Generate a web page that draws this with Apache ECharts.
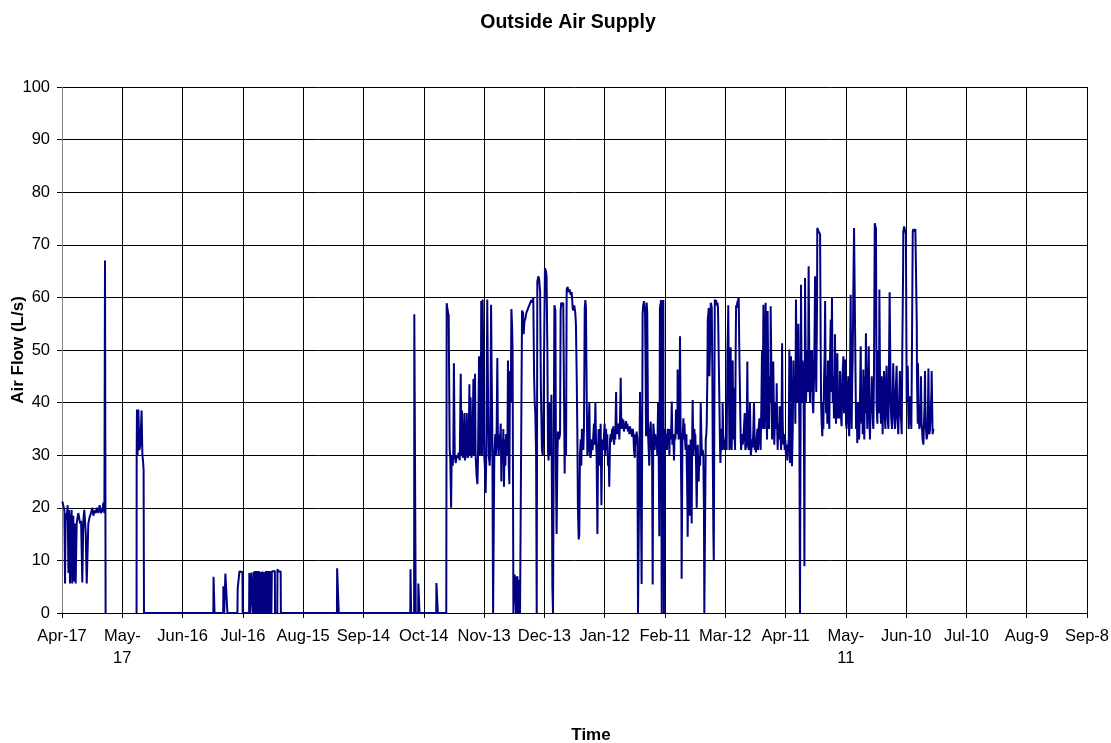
<!DOCTYPE html>
<html>
<head>
<meta charset="utf-8">
<script src="https://cdn.jsdelivr.net/npm/echarts@6/dist/echarts.min.js"></script>
<style>
html,body{margin:0;padding:0;background:#fff;}
#chart{width:1111px;height:743px;}
</style>
</head>
<body>
<div id="chart"></div>
<script>
// X values are days since the first tick (Apr-17); ticks every 30 days
const tickLabels = ['Apr-17','May-17','Jun-16','Jul-16','Aug-15','Sep-14','Oct-14','Nov-13','Dec-13','Jan-12','Feb-11','Mar-12','Apr-11','May-11','Jun-10','Jul-10','Aug-9','Sep-8'];
const tickStepDays = 30;

// [day, air flow L/s]
const earlyFlow = [[0.2,21.2],[0.6,20.5],[1.2,19.5],[1.5,5.6],[1.8,19],[2.3,17.7],[2.8,20.5],[3.2,7.6],[3.5,19.6],[4.0,5.6],[4.5,18.3],[4.8,19.6],[5.1,5.6],[5.6,18.5],[6.1,6],[6.5,17],[6.8,5.6],[7.3,17],[7.8,18.3],[8.1,19],[8.6,18],[9.0,17],[9.5,17.5],[10.1,5.8],[10.6,17.5],[11.1,19.6],[11.8,15.2],[12.3,5.6],[12.8,5.8],[13.1,17],[13.6,18],[14.4,19],[15.1,20],[15.6,18.5],[16.1,19.5],[16.8,19],[17.4,20],[18.1,19],[18.7,20.5],[19.4,19],[20.1,19.5],[20.6,21],[21.1,19],[21.4,67],[21.7,0]];

const mayFlow = [[37.1,0],[37.15,30],[37.3,38.7],[37.6,30],[38.0,38.7],[38.5,31],[39.0,32],[39.6,38.5],[40.0,30],[40.3,29],[40.6,27.2],[40.8,0]];

const idleFlow = [[41,0],[75.3,0],[75.4,6.9],[75.8,6.9],[75.9,0],[80.2,0],[80.3,5.1],[80.6,5.1],[80.7,0],[81.2,0],[81.3,7.5],[82.2,7.5],[82.3,0],[87.3,0],[87.4,4.6],[88.2,4.6],[88.3,7.9],[89.8,7.8],[89.9,0],
[93.1,0],[93.2,7.6],[93.6,7.5],[93.7,0],[94.2,0],[94.3,7.7],[94.9,7.6],[95.0,0],[95.5,7.9],[95.9,7.9],[96.0,0],[96.2,8.0],[96.8,8.0],[96.9,0],[97.1,8.0],[97.6,8.0],[97.7,0],[97.9,8.0],[98.5,7.9],[98.6,0],[98.8,7.8],[99.4,7.8],[99.5,0],[99.7,7.9],[100.3,7.9],[100.4,0],[100.6,7.8],[101.2,8.0],[101.3,0],[101.5,8.0],[102.2,8.0],[102.3,0],[102.5,8.0],[103.1,8.0],[103.2,0],[103.4,8.0],[104.1,8.0],[104.2,0],[104.4,7.9],[105.9,8.0],[106.0,0],[107.1,0],[107.2,8.3],[107.7,8.3],[107.8,7.9],[108.8,7.9],[108.9,0],
[136.8,0],[136.9,8.5],[137.6,8.5],[137.7,0],[173.3,0],[173.4,8.3],[173.6,8.3],[173.7,0],[175.2,0],[175.3,56.8],[175.9,56.5],[176.0,0],[177.2,0],[177.3,5.6],[177.8,5.6],[177.9,0],[186.2,0],[186.3,5.7],[186.9,5.7],[187.0,0],[191.2,0]];

const fallFlow = [[191.4,58.9],[191.9,57.5],[192.4,56.5],[192.9,31],[193.2,29.5],[193.6,20],[193.9,30],[194.4,28],[194.7,30.5],[195.0,47.5],[195.4,30],[195.9,28.5],[196.4,30],[196.9,29.5],[197.4,30.5],[197.9,29],[198.4,45.5],[198.7,30],[199.0,38.5],[199.4,29.5],[199.9,30.5],[200.2,38],[200.5,29],[201.0,31],[201.4,38],[201.8,29.5],[202.3,30],[202.7,43.5],[203.0,30],[203.3,41],[203.7,29.5],[204.2,31],[204.7,44.5],[205.0,30],[205.5,45.5],[205.8,30],[206.3,26],[206.7,24.5],[207.0,30],[207.5,48.8],[207.8,30],[208.3,31],[208.6,59.3],[209.0,30],[209.3,59.6],[209.8,40],[210.1,30],[210.5,27],[210.8,22.8],[211.1,30],[211.6,59.6],[212.0,40],[212.3,30],[212.8,28],[213.1,31],[213.5,58.6],[213.8,45],[214.1,35],[214.5,0],[214.8,0],[215.1,30],[215.6,34],[216.0,30],[216.3,36],[216.6,48.5],[216.9,33],[217.3,30],[217.6,34],[217.9,32],[218.3,36],[218.6,25],[218.9,33],[219.3,29],[219.6,35],[219.9,24],[220.3,33],[220.6,28],[220.9,34],[221.3,33.5],[221.6,30],[221.9,48],[222.3,28],[222.6,24.5],[222.9,46],[223.3,40],[223.6,57.8],[223.9,55],[224.2,50],[224.6,0],[224.9,0],[225.2,7.3],[225.6,6.3],[225.9,0],[226.2,6.5],[226.6,7],[226.9,0],[227.2,6.3],[227.6,5.5],[227.9,0],[228.7,0],[228.9,57.5],[229.4,57],[229.7,53],[230.1,55.5],[230.6,56],[231.0,57],[231.5,57],[232.0,58],[232.5,58.5],[233.0,58.8],[233.5,59.5],[234.0,59],[234.5,60],[234.9,45],[235.2,40],[235.5,38],[235.9,30],[236.2,0],[236.5,63],[237.0,64],[237.4,63.5],[237.9,61],[238.3,42],[238.8,31],[239.2,30],[239.5,35],[240.0,55]];

const winterFlow = [[240.3,65.5],[240.8,65],[241.1,64],[241.5,50],[241.8,31],[242.1,29],[242.5,40],[242.8,33],[243.1,30],[243.5,41.5],[243.8,20],[244.0,5],[244.3,0],[244.6,0],[245.0,58.5],[245.5,57.5],[245.8,26],[246.1,15],[246.5,30],[246.8,34.5],[247.3,33],[247.8,34],[248.1,57.5],[248.4,59],[248.9,58.5],[249.4,59],[249.8,41],[250.1,26.5],[250.4,40],[250.8,30],[251.1,61.5],[251.6,62],[252.1,61],[252.6,61.5],[253.1,60.5],[253.6,61],[254.1,58],[254.4,57.5],[254.9,58.5],[255.4,57],[255.7,55],[256.1,45],[256.4,35],[256.7,20],[257.1,14],[257.4,15],[257.7,30],[258.1,33],[258.4,28],[258.7,35],[259.1,33],[259.4,31],[259.7,35],[260.1,58],[260.4,59.5],[260.7,58],[261.1,40],[261.4,30],[261.7,31],[262.1,36],[262.4,40],[262.7,30],[263.0,29.5],[263.4,31],[263.7,33],[264.0,31],[264.4,34],[264.7,36],[265.0,32],[265.4,40],[265.7,33],[266.0,30],[266.4,15],[266.7,30],[267.0,35],[267.4,31],[267.7,28],[268.0,36],[268.4,20.5],[268.7,30],[269.0,33],[269.4,31],[269.7,34],[270.0,36],[270.3,30],[270.7,35],[271.0,31],[271.3,34],[271.7,28],[272.0,30],[272.3,24],[272.7,33],[273.0,34],[273.3,32.5],[273.7,35],[274.0,33],[274.3,35.5],[274.7,32],[275.0,34],[275.3,33],[275.7,42],[276.0,34],[276.3,36],[276.7,34],[277.0,36],[277.3,33],[277.6,36],[278.0,44.7],[278.3,35],[278.6,37],[279.0,35],[279.3,36.8],[279.6,34.5],[280.0,36],[280.3,35],[280.6,36.5],[281.0,35],[281.3,36],[281.6,34.5],[282.0,35.5],[282.3,34],[282.6,35.5],[283.0,34],[283.3,35],[283.6,33.5],[284.0,35],[284.3,34],[284.6,31],[285.0,29.5],[285.3,34],[285.6,32],[285.9,34.5],[286.3,33],[286.6,0],[287.1,0],[287.6,42],[288.1,20],[288.4,5.5],[288.9,57],[289.2,58.5]];

const springFlow = [[289.6,59.3],[290.1,57],[290.4,45],[290.6,33.6],[290.9,59],[291.2,57],[291.6,34],[291.9,31],[292.2,28],[292.6,35],[292.9,36.4],[293.2,33],[293.6,30],[293.9,5.4],[294.2,36],[294.6,34],[294.9,31],[295.2,34],[295.6,32],[295.9,33],[296.2,30],[296.6,40],[296.9,30],[297.2,14.6],[297.5,58],[297.9,59],[298.0,59.5],[298.4,0],[298.7,0],[298.9,59],[299.2,59.5],[299.5,0],[299.7,0],[300.0,35],[300.4,32],[300.7,34],[301.0,31],[301.4,35],[301.7,33],[302.0,35],[302.2,30],[302.5,35],[302.9,33],[303.2,36],[303.4,40.2],[303.7,32],[304.0,34],[304.3,32],[304.5,29],[304.8,34],[305.2,33],[305.5,38.7],[305.8,36],[306.2,34],[306.3,46.3],[306.7,36],[306.8,33],[307.2,38],[307.5,52.6],[307.8,35],[308.2,20],[308.3,6.5],[308.7,33],[309.0,35],[309.2,37],[309.5,33],[309.7,36],[310.0,33],[310.3,31],[310.7,34],[310.8,30],[311.2,20],[311.3,14.5],[311.6,25],[311.8,32],[312.1,20],[312.5,18.5],[312.8,33],[313.1,25],[313.3,17],[313.6,35],[313.8,40.5],[314.1,30],[314.5,33],[314.6,35],[315.0,33],[315.1,34],[315.5,28],[315.8,20],[316.1,28],[316.3,32],[316.6,27],[316.8,25],[317.1,30],[317.5,28],[317.8,40],[318.1,34],[318.4,30],[318.8,31],[319.1,30],[319.4,20],[319.6,0],[319.9,0],[320.3,33],[320.6,34],[320.8,36],[321.1,45],[321.3,55.8],[321.6,57],[321.8,58],[322.1,45],[322.4,50],[322.8,59],[323.1,58.5],[323.3,58],[323.6,45],[323.8,30],[324.1,15],[324.3,10],[324.6,40],[324.8,59.6],[325.1,59],[325.4,59.5],[325.8,58.5],[326.1,59],[326.4,58],[326.6,58],[326.9,45],[327.1,40],[327.4,32],[327.6,28.5],[327.9,33],[328.2,35],[328.6,31],[328.7,40],[329.1,32],[329.4,33],[329.7,31],[329.9,31],[330.2,33],[330.4,34],[330.7,31],[331.1,50],[331.4,55],[331.5,58.5],[331.9,40],[332.1,31],[332.4,35],[332.7,50.5],[333.0,35],[333.2,31],[333.5,40],[333.7,48],[334.0,33],[334.4,42.8],[334.7,33],[334.9,31],[335.2,50],[335.4,58.5],[335.7,58],[336.0,59],[336.4,59.5],[336.7,60],[337.0,50],[337.4,40],[337.7,33],[337.9,31],[338.2,33],[338.4,34],[338.7,32],[339.0,33]];

const aprilFlow = [[339.3,33],[339.7,38],[340.0,31],[340.3,31.5],[340.7,35],[341.0,47.8],[341.3,32],[341.7,31],[342.0,34],[342.3,40],[342.7,30],[343.0,31],[343.3,33],[343.7,31.5],[344.0,35],[344.3,40],[344.7,31],[345.0,33],[345.3,30.5],[345.6,33],[346.0,35],[346.3,31],[346.6,35],[347.0,37],[347.3,33],[347.6,31],[348.0,40],[348.3,50],[348.6,35],[349.0,58.6],[349.3,45],[349.6,35],[349.9,45],[350.1,59],[350.5,40],[350.8,33],[351.1,57.4],[351.5,40],[351.8,35],[352.1,45],[352.5,40],[352.6,58.3],[353.0,45],[353.3,33],[353.6,40],[353.9,47.8],[354.3,35],[354.4,32],[354.8,38],[355.1,40],[355.4,35],[355.6,43.7],[355.9,34],[356.1,31],[356.4,36],[356.8,33],[357.1,39.3],[357.4,35],[357.8,31],[358.1,40],[358.3,51.3],[358.6,36],[358.9,32],[359.2,34],[359.6,31],[359.9,33],[360.2,30],[360.6,32],[360.9,29],[361.2,31],[361.6,33],[361.9,50.1],[362.2,28.5],[362.6,35],[362.7,48.8],[363.1,30],[363.2,27.9],[363.6,35],[363.9,48],[364.2,40],[364.6,45],[364.9,36],[365.2,59.6],[365.6,45],[365.9,40],[366.2,48],[366.4,55],[366.7,42],[366.9,35],[367.2,0],[367.4,0],[367.7,62.4],[368.0,45],[368.2,40],[368.5,48],[368.9,45],[369.2,30],[369.4,8.9],[369.7,63.7],[370.0,50],[370.2,40],[370.5,45],[370.9,50],[371.2,42],[371.5,65.9],[371.9,45],[372.2,40],[372.5,50],[372.8,42],[373.2,50],[373.5,40],[373.8,38],[374.2,45],[374.5,55],[374.7,64],[375.0,48],[375.3,42],[375.7,60],[375.8,73.2],[376.2,73],[376.5,72.5],[376.8,72.5],[377.2,72],[377.5,50],[377.7,40],[378.0,36],[378.3,33.6],[378.7,40],[378.8,35],[379.2,45],[379.5,50],[379.7,59.3],[380.0,42],[380.2,38],[380.5,45],[380.8,36],[381.1,48],[381.5,38],[381.8,35],[382.1,48],[382.5,55.8],[382.8,42],[383.1,60],[383.5,40],[383.8,45],[384.1,37],[384.5,45],[384.6,53],[385.0,40],[385.1,36],[385.5,45],[385.8,49.4],[386.1,37],[386.5,40],[386.8,37],[387.1,46],[387.5,38],[387.8,36],[387.9,35.5],[388.3,45],[388.8,48.8],[389.1,38],[389.4,45]];

const mayJuneFlow = [[389.8,48.2],[390.1,36],[390.4,35],[390.8,44],[391.1,36],[391.2,45],[391.6,34],[391.7,33.6],[392.1,45],[392.4,60.5],[392.7,40],[392.9,35],[393.2,45],[393.4,48],[393.7,60],[394.1,73.2],[394.4,73.5],[394.7,73],[395.1,35],[395.4,40],[395.7,32.3],[396.1,38],[396.2,40],[396.6,33],[396.7,34],[397.1,42],[397.4,50.7],[397.7,38],[397.9,36],[398.2,42],[398.4,34],[398.7,46.3],[399.0,36],[399.2,33],[399.5,45],[399.7,38],[400.0,53.2],[400.4,40],[400.7,35],[401.0,42],[401.4,50.7],[401.7,38],[402.0,33],[402.4,40],[402.5,38],[402.9,45],[403.2,40],[403.5,36],[403.7,35],[404.0,45],[404.4,74.1],[404.7,74],[405.0,73],[405.3,40],[405.7,36],[405.8,45],[406.2,50],[406.5,38],[406.7,61.5],[407.0,45],[407.2,40],[407.5,36],[407.8,45],[408.2,37],[408.3,34],[408.7,42],[409.0,46],[409.3,38],[409.7,35],[410.0,44],[410.3,47],[410.7,38],[411.0,36],[411.2,35],[411.5,48],[411.8,61],[412.2,45],[412.3,40],[412.6,37],[413.0,35],[413.3,42],[413.6,47.5],[414.0,38],[414.3,36],[414.5,35],[414.8,42],[415.3,47],[415.6,37],[416.0,35],[416.1,34],[416.5,40],[416.9,46],[417.3,38],[417.6,36],[417.8,34],[418.1,50],[418.5,65],[418.6,72.5],[419.0,73.5],[419.3,73.5],[419.6,72.5],[419.9,72],[420.1,55],[420.3,40],[420.6,44.4],[420.8,47],[421.1,38],[421.3,35],[421.6,40],[421.9,41.2],[422.3,37],[422.6,35],[422.9,50],[423.3,72.5],[423.6,73],[424.1,72.5],[424.6,73],[424.9,73.3],[425.3,55],[425.4,45],[425.8,36],[425.9,47.5],[426.3,38],[426.6,35],[426.9,36],[427.3,40],[427.4,45],[427.7,36],[427.9,35],[428.2,33],[428.6,32],[428.9,36],[429.2,40],[429.4,46],[429.7,36],[429.9,35],[430.2,33],[430.6,34],[430.9,40],[431.1,46.5],[431.4,36],[431.6,34],[431.9,35],[432.2,38],[432.6,42],[432.7,46],[433.1,36],[433.2,34],[433.6,35]];

const gapMarker = [[29, null]];

const flowData = [].concat(earlyFlow, gapMarker, mayFlow, idleFlow, fallFlow, winterFlow, springFlow, aprilFlow, mayJuneFlow);

const FONT = '"Liberation Sans", Arial, sans-serif';
const chart = echarts.init(document.getElementById('chart'), null, {renderer: 'canvas'});
chart.setOption({
  animation: false,
  backgroundColor: '#ffffff',
  title: {
    text: 'Outside Air Supply',
    left: 563,
    top: 8,
    textAlign: 'center',
    textStyle: {fontFamily: FONT, fontWeight: 'bold', fontSize: 19.5, color: '#000'}
  },
  grid: {left: 62, right: 24, top: 87, bottom: 130, containLabel: false, outerBoundsMode: 'none'},
  xAxis: {
    type: 'value',
    min: 0,
    max: tickStepDays * (tickLabels.length - 1),
    interval: tickStepDays,
    axisLine: {show: true, onZero: false, lineStyle: {color: '#000', width: 1}},
    axisTick: {show: true, length: 5, lineStyle: {color: '#000'}},
    splitLine: {show: true, lineStyle: {color: '#000', width: 1}},
    axisLabel: {
      show: true,
      showMinLabel: true,
      showMaxLabel: true,
      margin: 12,
      fontFamily: FONT,
      fontSize: 16.5,
      lineHeight: 22,
      color: '#000',
      formatter: function (v) {
        const s = tickLabels[Math.round(v / tickStepDays)] || '';
        return s.indexOf('May-') === 0 ? s.replace('May-', 'May-\n') : s;
      }
    }
  },
  yAxis: {
    type: 'value',
    min: 0,
    max: 100,
    interval: 10,
    name: 'Air Flow (L/s)',
    nameLocation: 'middle',
    nameGap: 35,
    nameMoveOverlap: false,
    nameTextStyle: {fontFamily: FONT, fontWeight: 'bold', fontSize: 17, color: '#000'},
    axisLine: {show: true, lineStyle: {color: '#808080', width: 1}},
    axisTick: {show: true, length: 5, lineStyle: {color: '#000'}},
    splitLine: {show: true, lineStyle: {color: '#000', width: 1}},
    axisLabel: {margin: 12, fontFamily: FONT, fontSize: 16.5, color: '#000'}
  },
  graphic: [{
    type: 'text',
    x: 591,
    y: 735,
    style: {text: 'Time', textAlign: 'center', textVerticalAlign: 'middle', font: 'bold 17px "Liberation Sans", Arial, sans-serif', fill: '#000'}
  }],
  series: [{
    name: 'Outside Air Supply',
    type: 'line',
    data: flowData,
    showSymbol: false,
    symbol: 'none',
    connectNulls: false,
    lineStyle: {color: '#000080', width: 2},
    itemStyle: {color: '#000080'}
  }]
});
</script>
</body>
</html>
